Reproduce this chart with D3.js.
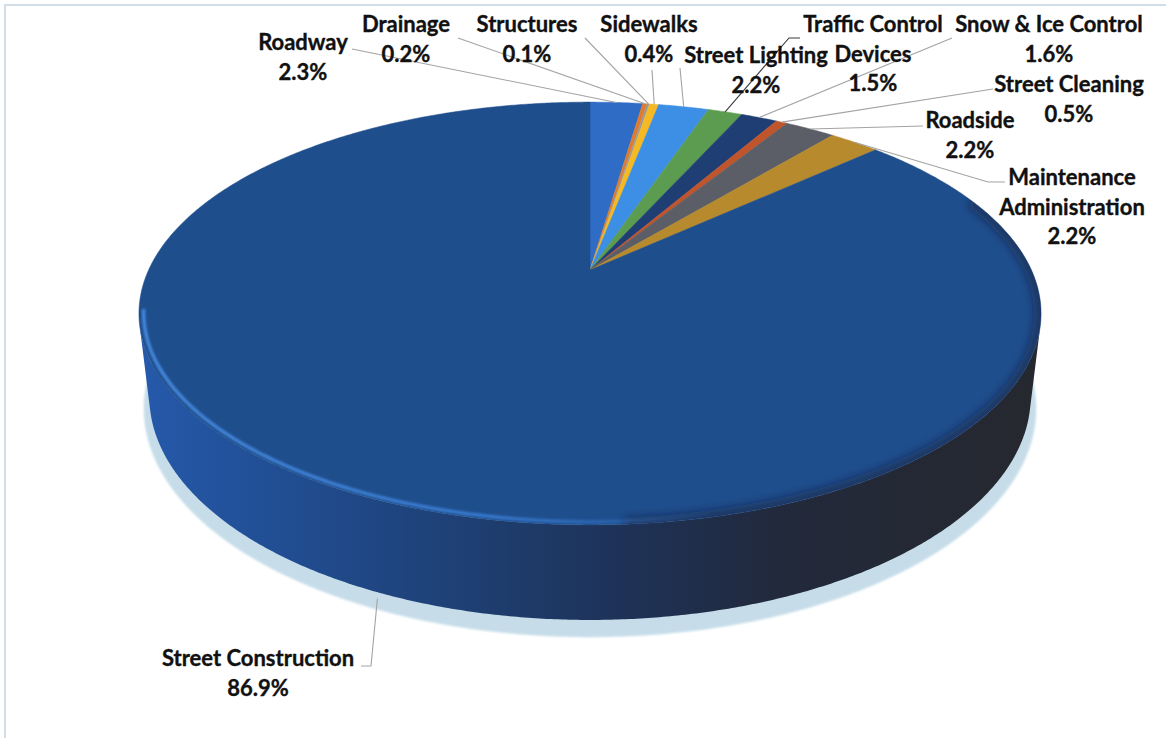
<!DOCTYPE html>
<html>
<head>
<meta charset="utf-8">
<script src="https://cdn.jsdelivr.net/npm/d3@7"></script>
<style>
  html, body { margin: 0; padding: 0; background: #ffffff; }
  svg { display: block; }
  .lbl { font-family: Lato, "Open Sans", sans-serif; font-weight: 700; font-size: 22px; fill: #111111;
         stroke: #111111; stroke-width: 0.35px; }
</style>
</head>
<body>
<svg id="chart" width="1166" height="738"></svg>
<script>
// Maintenance program budget shares (percent of total)
const categories = [
  "Roadway", "Drainage", "Structures", "Sidewalks", "Street Lighting",
  "Traffic Control Devices", "Snow & Ice Control", "Street Cleaning",
  "Roadside", "Maintenance Administration", "Street Construction"
];
const shares = [2.3, 0.2, 0.1, 0.4, 2.2, 1.5, 1.6, 0.5, 2.2, 2.2, 86.9];
const labelLines = [
  ["Roadway"], ["Drainage"], ["Structures"], ["Sidewalks"], ["Street Lighting"],
  ["Traffic Control", "Devices"], ["Snow & Ice Control"], ["Street Cleaning"],
  ["Roadside"], ["Maintenance", "Administration"], ["Street Construction"]
];
const sliceColors = [
  "#2f6cc6", "#e07a2e", "#9a9a9a", "#f4b923", "#3c8fe4", "#5b9c50",
  "#1f3f74", "#c0552c", "#5b5e66", "#b78a2d", "#1f4e8d"
];

// label anchor (centre x, first baseline y) and leader start/elbow
const labelPos = [
  [303, 50], [406, 32], [527, 32], [649, 32], [756, 63],
  [873, 32], [1049, 32], [1069, 92], [970, 128], [1072, 185], [258, 666]
];
const leaderStart = [
  [[352, 49]], [[458, 38]], [[585, 38]], [[652, 70]], [[680, 68]],
  [[800, 38], [789, 38]], [[952, 38]], [[993, 89]], [[923, 126]],
  [[1005, 182], [988, 182]], [[361, 666], [371, 666]]
];
const lineGap = 29.5;

const svg = d3.select("#chart");
const W = 1166, H = 738;

// frame
svg.append("rect").attr("x", 5).attr("y", 5).attr("width", W + 10).attr("height", H + 10)
  .attr("fill", "none").attr("stroke", "#d3dde5").attr("stroke-width", 2);

// ---- perspective projection of a unit-radius disc ----
const cx = 590, cy = 270;
const tilt = 27.3 * Math.PI / 180;
const camDist = 4.318, focal = 1906, thick = 0.2126;
const sinT = Math.sin(tilt), cosT = Math.cos(tilt);
function project(theta, r, y) {
  const X = r * Math.sin(theta), D = r * Math.cos(theta);
  const v = D * sinT + y * cosT;
  const w = camDist + D * cosT - y * sinT;
  return [cx + focal * X / w, cy - focal * v / w];
}
function rimPoints(a0, a1, r, y) {
  const n = Math.max(2, Math.ceil(Math.abs(a1 - a0) / (0.4 * Math.PI / 180)));
  return d3.range(n + 1).map(i => project(a0 + (a1 - a0) * i / n, r, y));
}
const line = d3.line();
const closed = d3.line().curve(d3.curveLinearClosed);

const arcs = d3.pie().sort(null).value(d => d)(shares);

// side wall visible range (silhouette of cylinder)
const silA = Math.acos(-1 / (camDist * cosT));
const wallA0 = silA, wallA1 = 2 * Math.PI - silA;

const defs = svg.append("defs");
const blur = defs.append("filter").attr("id", "soft").attr("x", "-5%").attr("y", "-5%")
  .attr("width", "110%").attr("height", "110%");
blur.append("feGaussianBlur").attr("stdDeviation", 1.2);
const blur2 = defs.append("filter").attr("id", "softer").attr("x", "-10%").attr("y", "-10%")
  .attr("width", "120%").attr("height", "120%");
blur2.append("feGaussianBlur").attr("stdDeviation", 4);

const clip = defs.append("clipPath").attr("id", "topClip");
clip.append("path").attr("d", closed(rimPoints(0, 2 * Math.PI, 1, 0)));

const wallGrad = defs.append("linearGradient").attr("id", "wallGrad")
  .attr("gradientUnits", "userSpaceOnUse").attr("x1", 140).attr("x2", 1040).attr("y1", 0).attr("y2", 0);
[[0, "#2559aa"], [0.15, "#214e94"], [0.38, "#1e3e70"], [0.55, "#1e3155"], [0.72, "#22293a"], [1, "#26282f"]]
  .forEach(([o, c]) => wallGrad.append("stop").attr("offset", o).attr("stop-color", c));

const rimGrad = defs.append("linearGradient").attr("id", "rimGrad")
  .attr("gradientUnits", "userSpaceOnUse").attr("x1", 140).attr("x2", 720).attr("y1", 0).attr("y2", 0);
[[0, "#4b92ea", 0.85], [0.6, "#3f86e0", 0.75], [1, "#3f86e0", 0]]
  .forEach(([o, c, a]) => rimGrad.append("stop").attr("offset", o).attr("stop-color", c).attr("stop-opacity", a));

// soft ground shadow
svg.append("path")
  .attr("d", closed(rimPoints(0, 2 * Math.PI, 1.015, -thick - 0.028)))
  .attr("fill", "#c6dde9").attr("filter", "url(#soft)");

// side wall
const wallPts = rimPoints(wallA0, wallA1, 1, 0).concat(rimPoints(wallA1, wallA0, 1, -thick));
svg.append("path").attr("d", closed(wallPts)).attr("fill", "url(#wallGrad)");

// top faces
svg.append("g").selectAll("path").data(arcs).join("path")
  .attr("d", d => closed([[cx, cy]].concat(rimPoints(d.startAngle, d.endAngle, 1, 0))))
  .attr("fill", (d, i) => sliceColors[i])
  .attr("stroke", (d, i) => sliceColors[i]).attr("stroke-width", 0.5);

// bevel shading along the front edge of the top
const bevel = svg.append("g").attr("clip-path", "url(#topClip)");
bevel.append("path")
  .attr("d", line(rimPoints(0.38 * Math.PI, 0.98 * Math.PI, 1.0, 0)))
  .attr("fill", "none").attr("stroke", "#141c2c").attr("stroke-width", 14)
  .attr("stroke-opacity", 0.45).attr("filter", "url(#softer)");
bevel.append("path")
  .attr("d", line(rimPoints(1.44 * Math.PI, 0.9 * Math.PI, 0.99, 0)))
  .attr("fill", "none").attr("stroke", "url(#rimGrad)").attr("stroke-width", 3.5)
  .attr("filter", "url(#soft)");

// leader lines
const mid = d => (d.startAngle + d.endAngle) / 2;
svg.append("g").selectAll("path").data(arcs).join("path")
  .attr("d", (d, i) => {
    const last = categories[i] === "Street Construction"
      ? project(mid(d), 1.0, -thick - 0.015)
      : project(mid(d), 1, 0);
    return line(leaderStart[i].concat([last]));
  })
  .attr("fill", "none")
  .attr("stroke", (d, i) => categories[i] === "Traffic Control Devices" ? "#3a3a3a" : "#a3a3a3")
  .attr("stroke-width", 1.1);

// labels
const lblG = svg.append("g").selectAll("text").data(arcs).join("text")
  .attr("class", "lbl").attr("text-anchor", "middle")
  .attr("x", (d, i) => labelPos[i][0]).attr("y", (d, i) => labelPos[i][1]);
lblG.each(function (d, i) {
  const t = d3.select(this);
  const lines = labelLines[i].concat([shares[i].toFixed(1) + "%"]);
  lines.forEach((s, k) => {
    t.append("tspan").attr("x", labelPos[i][0]).attr("dy", k === 0 ? 0 : lineGap).text(s);
  });
});
</script>
</body>
</html>
